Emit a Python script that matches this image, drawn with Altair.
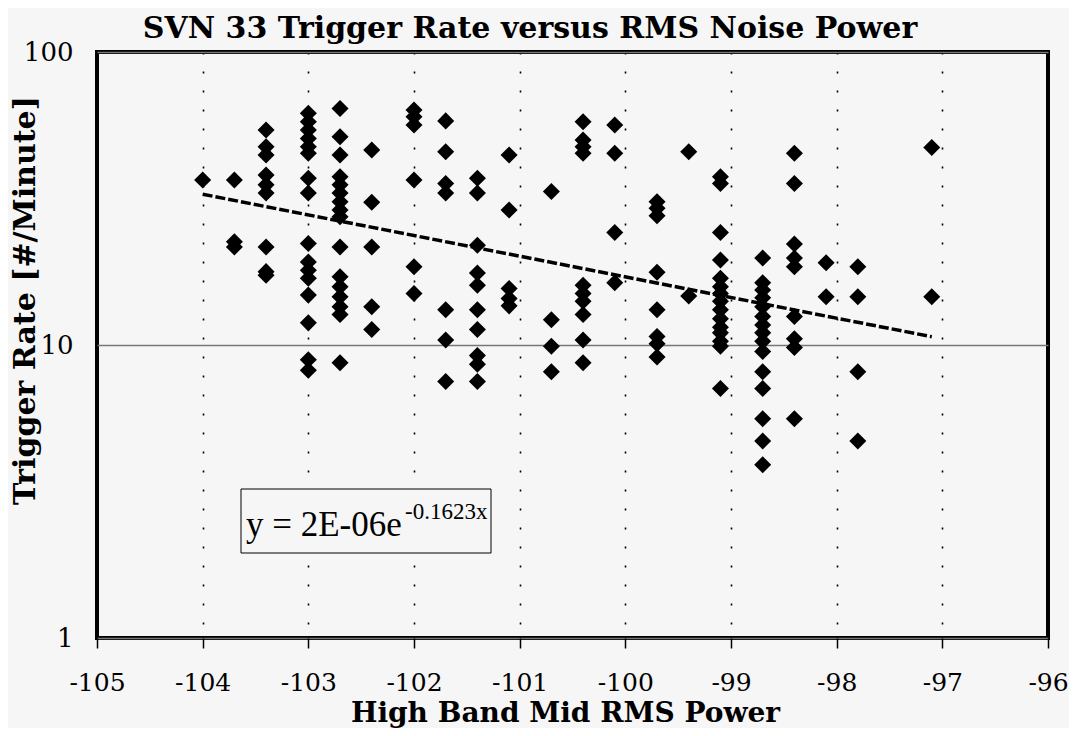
import altair as alt
import pandas as pd

# ---- data ----
col_x = [-104.0, -103.7, -103.4, -103.0, -102.7, -102.4, -102.0, -101.7, -101.4, -101.1,
         -100.7, -100.4, -100.1, -99.7, -99.4, -99.1, -98.7, -98.4, -98.1, -97.8, -97.1]
col_y = [
    [36.6],
    [36.6, 22.5, 21.6],
    [54.2, 47.5, 44.5, 38.0, 35.2, 33.0, 21.6, 17.8, 17.3],
    [61.8, 57.8, 54.2, 50.7, 47.5, 45.1, 37.1, 33.0, 22.2, 19.2, 18.0, 16.9, 14.8, 11.9, 8.9, 8.2],
    [64.2, 51.4, 44.5, 37.5, 35.2, 33.0, 30.8, 28.9, 27.4, 21.6, 17.1, 15.8, 14.6, 13.5, 12.7, 8.7],
    [46.3, 30.7, 21.6, 13.5, 11.3],
    [63.4, 60.1, 56.3, 36.6, 18.5, 15.0],
    [58.2, 45.7, 35.6, 33.0, 13.2, 10.4, 7.5],
    [37.1, 33.0, 21.9, 17.6, 16.0, 13.2, 11.3, 9.2, 8.6, 7.5],
    [44.5, 28.9, 15.6, 14.4, 13.6],
    [33.4, 12.2, 9.9, 8.1],
    [57.8, 50.1, 47.5, 45.1, 16.0, 15.0, 14.1, 12.7, 10.4, 8.7],
    [56.3, 45.1, 24.2, 16.3],
    [30.8, 29.3, 27.6, 17.7, 13.2, 10.7, 10.1, 9.1],
    [45.7, 14.7],
    [37.5, 35.6, 24.2, 19.5, 16.9, 15.8, 15.0, 14.1, 13.2, 12.3, 11.5, 11.0, 10.3, 9.9, 7.1],
    [19.8, 16.3, 15.4, 14.5, 13.5, 12.5, 11.7, 11.0, 10.3, 9.5, 8.1, 7.1, 5.6, 4.7, 3.9],
    [45.1, 35.6, 22.1, 19.8, 18.5, 12.5, 10.5, 9.8, 5.6],
    [19.1, 14.6],
    [18.5, 14.6, 8.1, 4.7],
    [47.2, 14.6],
]
trend_x = [-104.0, -97.1]
trend_y = [32.7, 10.67]
x_ticks = [-105, -104, -103, -102, -101, -100, -99, -98, -97, -96]
y_ticks = [1, 10, 100]

title_text = "SVN 33 Trigger Rate versus RMS Noise Power"
x_title = "High Band Mid RMS Power"
y_title = "Trigger Rate [#/Minute]"
eq_main = "y = 2E-06e"
eq_sup = "-0.1623x"

rows = []
for cx, ys in zip(col_x, col_y):
    for v in ys:
        rows.append({"x": cx, "y": v})
pts = pd.DataFrame(rows)
trend = pd.DataFrame({"x": trend_x, "y": trend_y})

W, H = 951, 586
SERIF = "DejaVu Serif"

xscale = alt.Scale(domain=[-105, -96], nice=False, zero=False)
yscale = alt.Scale(type="log", domain=[1, 100], nice=False)

xaxis = alt.Axis(
    values=x_ticks, title=x_title, grid=True, labelExpr="toString(datum.value)",
    gridColor="black", gridDash=[2, 17], gridWidth=1.6,
    domain=False, ticks=True, tickSize=10, tickColor="black", tickWidth=1.5,
    labelFont=SERIF, labelFontSize=25, labelColor="black", labelPadding=34,
    labelBaseline="middle", labelFlush=False, labelOverlap=False,
    titleFont=SERIF, titleFontSize=28, titleFontWeight="bold", titleColor="black",
    titleX=468, titleY=83, titleBaseline="alphabetic", titleAlign="center",
)
yaxis = alt.Axis(
    values=y_ticks, format="d", title=y_title, grid=True,
    gridColor="#777777", gridWidth=1.5,
    domain=False, ticks=False, labelPadding=24,
    labelFont=SERIF, labelFontSize=26, labelColor="black", labelBaseline="middle",
    labelFlush=False, labelOverlap=False,
    titleFont=SERIF, titleFontSize=30, titleFontWeight="bold", titleColor="black",
    titleX=-72, titleY=248, titleAngle=270, titleBaseline="middle", titleAlign="center",
)

points = alt.Chart(pts).mark_point(
    shape="diamond", filled=True, color="black", size=290, opacity=1
).encode(
    x=alt.X("x:Q", scale=xscale, axis=xaxis),
    y=alt.Y("y:Q", scale=yscale, axis=yaxis),
)

line = alt.Chart(trend).mark_line(
    color="black", strokeWidth=3.5, strokeDash=[10, 3]
).encode(
    x=alt.X("x:Q", scale=xscale),
    y=alt.Y("y:Q", scale=yscale),
)

box = alt.Chart(pd.DataFrame({"a": [0]})).mark_rect(
    fill="#f6f6f6", stroke="black", strokeWidth=1
).encode(
    x=alt.value(144), x2=alt.value(394), y=alt.value(437), y2=alt.value(501)
)
eq1 = alt.Chart(pd.DataFrame({"t": [eq_main]})).mark_text(
    font="Liberation Serif", fontSize=35, align="left", baseline="alphabetic", color="black"
).encode(text="t:N", x=alt.value(149), y=alt.value(484))
eq2 = alt.Chart(pd.DataFrame({"t": [eq_sup]})).mark_text(
    font="Liberation Serif", fontSize=23, align="left", baseline="alphabetic", color="black"
).encode(text="t:N", x=alt.value(308), y=alt.value(467))

title = alt.Chart(pd.DataFrame({"t": [title_text]})).mark_text(
    font=SERIF, fontSize=30, fontWeight="bold", align="center", baseline="alphabetic",
    color="black"
).encode(text="t:N", x=alt.value(433), y=alt.value(-14))

chart = alt.layer(points, line, box, eq1, eq2, title).properties(
    width=W, height=H,
    autosize=alt.AutoSizeParams(type="none"),
    padding={"left": 89, "top": 44, "right": 21, "bottom": 90},
    background="#f6f6f6",
).configure_view(stroke="black", strokeWidth=4, clip=False)

chart.save("out.html", embed_options={"renderer": "svg", "actions": False})
